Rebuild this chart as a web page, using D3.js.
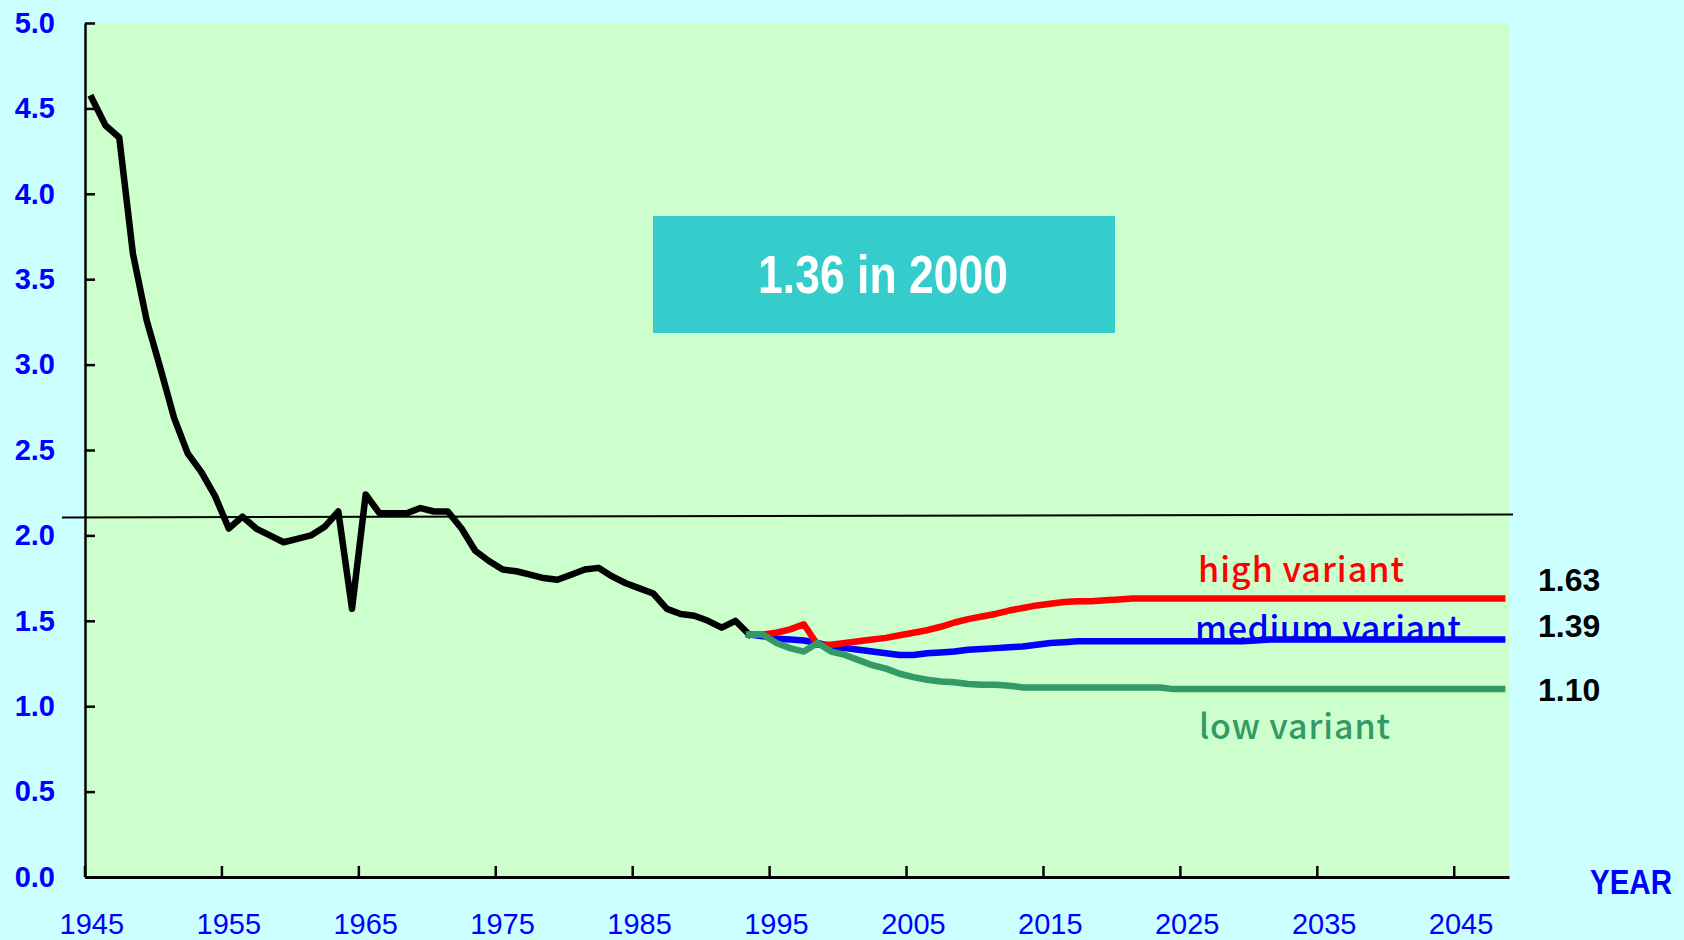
<!DOCTYPE html>
<html>
<head>
<meta charset="utf-8">
<script src="https://cdn.jsdelivr.net/npm/d3@7"></script>
<style>
  body { margin: 0; background: #ccffff; }
  svg { display: block; }
  text { font-family: "Liberation Sans", Arial, sans-serif; }
</style>
</head>
<body>
<div id="chart"></div>
<script>
// total fertility rate, Japan: actual 1947-1995, variants 1995-2050
const actualYears = d3.range(1947, 1996);
const actualValues = [4.56, 4.40, 4.33, 3.65, 3.26, 2.98, 2.69, 2.48, 2.37, 2.23,
    2.04, 2.11, 2.04, 2.00, 1.96, 1.98, 2.00, 2.05, 2.14, 1.57,
    2.24, 2.13, 2.13, 2.13, 2.16, 2.14, 2.14, 2.04, 1.91, 1.85,
    1.80, 1.79, 1.77, 1.75, 1.74, 1.77, 1.80, 1.81, 1.76, 1.72,
    1.69, 1.66, 1.57, 1.54, 1.53, 1.50, 1.46, 1.50, 1.42];

const variantYears = d3.range(1995, 2051);
const highValues = [1.42, 1.42, 1.43, 1.45, 1.48, 1.36, 1.36, 1.37, 1.38, 1.39,
    1.40, 1.415, 1.43, 1.445, 1.465, 1.49, 1.51, 1.525, 1.54, 1.56,
    1.575, 1.59, 1.60, 1.61, 1.615, 1.615, 1.62, 1.625, 1.63, 1.63,
    1.63, 1.63, 1.63, 1.63, 1.63, 1.63, 1.63, 1.63, 1.63, 1.63,
    1.63, 1.63, 1.63, 1.63, 1.63, 1.63, 1.63, 1.63, 1.63, 1.63,
    1.63, 1.63, 1.63, 1.63, 1.63, 1.63];
const mediumValues = [1.42, 1.41, 1.395, 1.39, 1.385, 1.37, 1.35, 1.34, 1.33, 1.32,
    1.31, 1.30, 1.30, 1.31, 1.315, 1.32, 1.33, 1.335, 1.34, 1.345,
    1.35, 1.36, 1.37, 1.375, 1.38, 1.38, 1.38, 1.38, 1.38, 1.38,
    1.38, 1.38, 1.38, 1.38, 1.38, 1.38, 1.38, 1.385, 1.39, 1.39,
    1.39, 1.39, 1.39, 1.39, 1.39, 1.39, 1.39, 1.39, 1.39, 1.39,
    1.39, 1.39, 1.39, 1.39, 1.39, 1.39];
const lowValues = [1.42, 1.42, 1.37, 1.34, 1.32, 1.37, 1.32, 1.30, 1.27, 1.24,
    1.22, 1.19, 1.17, 1.155, 1.145, 1.14, 1.13, 1.125, 1.125, 1.12,
    1.11, 1.11, 1.11, 1.11, 1.11, 1.11, 1.11, 1.11, 1.11, 1.11,
    1.11, 1.10, 1.10, 1.10, 1.10, 1.10, 1.10, 1.10, 1.10, 1.10,
    1.10, 1.10, 1.10, 1.10, 1.10, 1.10, 1.10, 1.10, 1.10, 1.10,
    1.10, 1.10, 1.10, 1.10, 1.10, 1.10];

const replacementLevel = [2.105, 2.123]; // left end, right end
const yTicks = [0, 0.5, 1, 1.5, 2, 2.5, 3, 3.5, 4, 4.5, 5];
const xTickLabels = ["1945", "1955", "1965", "1975", "1985", "1995",
    "2005", "2015", "2025", "2035", "2045"];
const endLabels = ["1.63", "1.39", "1.10"];
const variantNames = ["high variant", "medium variant", "low variant"];
const boxText = "1.36 in 2000";

const width = 1684;
const height = 940;
const plot = {left: 85, right: 1509, top: 23, bottom: 877};

var svg = d3.select("#chart").append("svg")
    .attr("width", width).attr("height", height);

svg.append("rect")
    .attr("width", width).attr("height", height)
    .attr("fill", "#ccffff");

svg.append("rect")
    .attr("x", plot.left).attr("y", plot.top)
    .attr("width", plot.right - plot.left).attr("height", plot.bottom - plot.top)
    .attr("fill", "#ccffcc");

// one band per year, points at band centre
var allYears = d3.range(1947, 2051);
var x = d3.scaleBand().domain(allYears).range([plot.left, plot.right]);
var bw = x.bandwidth();
var xc = function (yr) { return x(yr) + bw / 2; };
var y = d3.scaleLinear().domain([0, 5]).range([plot.bottom, plot.top]);

// replacement level line (runs past the axis on the left)
svg.append("line")
    .attr("x1", 62).attr("x2", 1513)
    .attr("y1", y(replacementLevel[0])).attr("y2", y(replacementLevel[1]))
    .attr("stroke", "#000").attr("stroke-width", 2);

// y axis
var yAxis = svg.append("g")
    .attr("transform", "translate(" + plot.left + ",0)")
    .call(d3.axisLeft(y).tickValues(yTicks)
        .tickSizeInner(-10).tickSizeOuter(0).tickPadding(30)
        .tickFormat(d3.format(".1f")));
yAxis.select(".domain").attr("stroke", "#000").attr("stroke-width", 2.5);
yAxis.selectAll(".tick line").attr("stroke", "#000").attr("stroke-width", 2.5);
yAxis.selectAll(".tick text")
    .attr("fill", "#0000ff")
    .style("font-size", "29px").style("font-weight", "bold");

// x axis: ticks at band edges every 10 years, labels centred on the band
var tickYears = allYears.filter(function (d, i) { return i % 10 === 0; });
var xAxis = svg.append("g")
    .attr("transform", "translate(0," + plot.bottom + ")")
    .call(d3.axisBottom(x).tickValues(tickYears)
        .tickSize(0).tickPadding(36)
        .tickFormat(function (d, i) { return xTickLabels[i]; }));
xAxis.select(".domain").attr("stroke", "#000").attr("stroke-width", 3);
xAxis.selectAll(".tick text")
    .attr("fill", "#0000ff")
    .style("font-size", "29px");

svg.append("g").selectAll("line")
    .data(tickYears)
    .enter()
    .append("line")
    .attr("x1", function (d) { return x(d); })
    .attr("x2", function (d) { return x(d); })
    .attr("y1", plot.bottom).attr("y2", plot.bottom - 11)
    .attr("stroke", "#000").attr("stroke-width", 2.5);

// lines
var line = d3.line()
    .x(function (d) { return xc(d[0]); })
    .y(function (d) { return y(d[1]); });

var series = [
    {years: actualYears, values: actualValues, color: "#000000"},
    {years: variantYears, values: mediumValues, color: "#0000ff"},
    {years: variantYears, values: highValues, color: "#ff0000"},
    {years: variantYears, values: lowValues, color: "#339966"}
];

svg.append("g").selectAll("path")
    .data(series)
    .enter()
    .append("path")
    .attr("d", function (s) { return line(d3.zip(s.years, s.values)); })
    .attr("fill", "none")
    .attr("stroke", function (s) { return s.color; })
    .attr("stroke-width", 6.5)
    .attr("stroke-linejoin", "round")
    .attr("stroke-linecap", "square");

// variant names
var nameSpecs = [
    {x: 1198, y: 582, w: 206, color: "#ff0000"},
    {x: 1195, y: 641, w: 266, color: "#0000ff"},
    {x: 1199, y: 739, w: 191, color: "#339966"}
];
svg.append("g").selectAll("text")
    .data(variantNames)
    .enter()
    .append("text")
    .attr("x", function (d, i) { return nameSpecs[i].x; })
    .attr("y", function (d, i) { return nameSpecs[i].y; })
    .attr("textLength", function (d, i) { return nameSpecs[i].w; })
    .attr("lengthAdjust", "spacing")
    .attr("fill", function (d, i) { return nameSpecs[i].color; })
    .style("font-family", "'Noto Sans CJK JP', 'Noto Sans', sans-serif")
    .style("font-size", "34px").style("font-weight", "500")
    .text(function (d) { return d; });

// final values on the right
var endY = [591, 637, 701];
svg.append("g").selectAll("text")
    .data(endLabels)
    .enter()
    .append("text")
    .attr("x", 1538)
    .attr("y", function (d, i) { return endY[i]; })
    .attr("fill", "#000")
    .style("font-size", "32px").style("font-weight", "bold")
    .text(function (d) { return d; });

// YEAR
svg.append("text")
    .attr("transform", "translate(1631,894) scale(0.82,1)")
    .attr("text-anchor", "middle")
    .attr("fill", "#0000ff")
    .style("font-size", "36px").style("font-weight", "bold")
    .text("YEAR");

// 2000 box
svg.append("rect")
    .attr("x", 653).attr("y", 216)
    .attr("width", 462).attr("height", 117)
    .attr("fill", "#35cccc");
svg.append("text")
    .attr("transform", "translate(883,293) scale(0.84,1)")
    .attr("text-anchor", "middle")
    .attr("fill", "#ffffff")
    .style("font-size", "53px").style("font-weight", "bold")
    .text(boxText);
</script>
</body>
</html>
